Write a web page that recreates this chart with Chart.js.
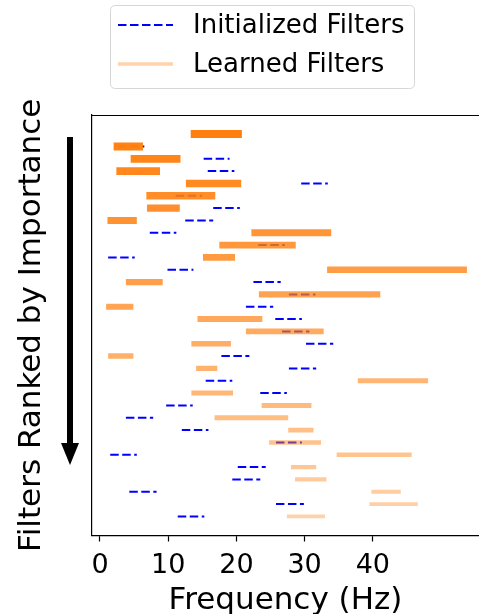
<!DOCTYPE html>
<html>
<head>
<meta charset="utf-8">
<script src="https://cdn.jsdelivr.net/npm/chart.js@4.4.1/dist/chart.umd.min.js"></script>
<style>
  html, body { margin: 0; padding: 0; background: #ffffff; }
  #wrap { width: 479px; height: 614px; position: relative; }
</style>
</head>
<body>
<div id="wrap"><canvas id="chart" width="479" height="614"></canvas></div>
<script>
// Filters in order of importance (rank 0 = most important)
const filterRanks = [0,1,2,3,4,5,6,7,8,9,10,11,12,13,14,15,16,17,18,19,20,21,22,23,24,25,26,27,28,29,30,31];

// Initialized pass-band of each filter (Hz)
const initLow  = [15.2, 2.6, 15.2, 15.8, 29.5, 11.1, 16.6, 12.5, 7.3, 23.2, 1.2, 9.9, 22.5, 27.7, 21.4, 25.7,
                  26.7, 30.2, 17.8, 27.7, 15.5, 23.5, 9.7, 3.8, 12.0, 25.8, 1.5, 20.2, 19.4, 4.3, 25.8, 11.4];
const initHigh = [19.1, 6.5, 19.0, 19.7, 33.4, 15.0, 20.5, 16.6, 11.2, 27.1, 5.1, 13.7, 26.5, 31.6, 25.4, 29.6,
                  30.7, 34.2, 21.9, 31.7, 19.4, 27.4, 13.6, 7.8, 15.9, 29.6, 5.4, 24.3, 23.5, 8.3, 29.9, 15.3];

// Learned pass-band of each filter (Hz)
const learnedLow  = [13.3, 2.0, 4.5, 2.4, 12.6, 6.8, 6.9, 1.1, 22.2, 17.5, 15.1, 33.3, 3.8, 23.3, 0.9, 14.3,
                     21.4, 13.4, 1.2, 14.1, 37.8, 13.4, 23.7, 16.8, 27.6, 24.8, 34.7, 28.0, 28.6, 39.8, 39.5, 27.4];
const learnedHigh = [20.8, 6.3, 11.8, 8.8, 20.7, 16.9, 11.7, 5.4, 33.9, 28.7, 19.8, 53.8, 9.2, 41.1, 4.9, 23.8,
                     32.8, 19.2, 4.9, 17.2, 48.1, 19.5, 31.0, 27.6, 31.3, 32.4, 45.7, 31.7, 33.2, 44.1, 46.6, 33.0];

const xTickValues = [0, 10, 20, 30, 40];

const seriesNames = ['Initialized Filters', 'Learned Filters'];
const axisTitles = { x: 'Frequency (Hz)', y: 'Filters Ranked by Importance' };

const FONT = "'DejaVu Sans', sans-serif";
const nFilters = filterRanks.length;

// learned bands fade and thin out as importance drops
function learnedAlpha(rank) { return 1.0 - 0.65 * rank / (nFilters - 1); }
function learnedWidth(rank) { return 8 - 4.3 * rank / (nFilters - 1); }

const datasets = [];
filterRanks.forEach((r, i) => {
  datasets.push({
    label: seriesNames[1],
    data: [{ x: learnedLow[i], y: r }, { x: learnedHigh[i], y: r }],
    borderColor: `rgba(255,127,14,${learnedAlpha(r).toFixed(3)})`,
    borderWidth: learnedWidth(r),
    borderCapStyle: 'butt',
    order: 0
  });
});
filterRanks.forEach((r, i) => {
  datasets.push({
    label: seriesNames[0],
    data: [{ x: initLow[i], y: r }, { x: initHigh[i], y: r }],
    borderColor: '#0000ff',
    borderWidth: 2,
    borderDash: [8.5, 3.5],
    borderCapStyle: 'butt',
    order: 1
  });
});

// frame top edge, importance arrow and the boxed legend
const decorations = {
  id: 'decorations',
  afterDraw(chart) {
    const ctx = chart.ctx;
    const a = chart.chartArea;
    ctx.save();
    // top spine
    ctx.strokeStyle = '#000';
    ctx.lineWidth = 1.2;
    ctx.beginPath();
    ctx.moveTo(a.left, a.top + 0.5);
    ctx.lineTo(a.right + 2, a.top + 0.5);
    ctx.stroke();

    // importance arrow
    const ax = 70, y0 = 137, yTip = 465, headLen = 22, headHalf = 9;
    ctx.fillStyle = '#000';
    ctx.fillRect(ax - 3, y0, 6, yTip - headLen - y0 + 1);
    ctx.beginPath();
    ctx.moveTo(ax - headHalf, yTip - headLen);
    ctx.lineTo(ax + headHalf, yTip - headLen);
    ctx.lineTo(ax, yTip);
    ctx.closePath();
    ctx.fill();

    // legend box
    const bx = 110.5, by = 5.5, bw = 304, bh = 83, rad = 5;
    ctx.beginPath();
    ctx.moveTo(bx + rad, by);
    ctx.lineTo(bx + bw - rad, by);
    ctx.quadraticCurveTo(bx + bw, by, bx + bw, by + rad);
    ctx.lineTo(bx + bw, by + bh - rad);
    ctx.quadraticCurveTo(bx + bw, by + bh, bx + bw - rad, by + bh);
    ctx.lineTo(bx + rad, by + bh);
    ctx.quadraticCurveTo(bx, by + bh, bx, by + bh - rad);
    ctx.lineTo(bx, by + rad);
    ctx.quadraticCurveTo(bx, by, bx + rad, by);
    ctx.closePath();
    ctx.fillStyle = 'rgba(255,255,255,0.8)';
    ctx.fill();
    ctx.strokeStyle = '#d6d6d6';
    ctx.lineWidth = 1;
    ctx.stroke();

    // legend handles
    ctx.strokeStyle = '#0000ff';
    ctx.lineWidth = 2;
    ctx.lineCap = 'butt';
    ctx.setLineDash([8.5, 3.5]);
    ctx.beginPath();
    ctx.moveTo(118, 25);
    ctx.lineTo(173, 25);
    ctx.stroke();
    ctx.setLineDash([]);
    ctx.strokeStyle = `rgba(255,127,14,${learnedAlpha(nFilters - 1).toFixed(3)})`;
    ctx.lineWidth = learnedWidth(nFilters - 1);
    ctx.beginPath();
    ctx.moveTo(118, 64);
    ctx.lineTo(173, 64);
    ctx.stroke();

    ctx.fillStyle = '#000';
    ctx.font = `26px ${FONT}`;
    ctx.textBaseline = 'middle';
    ctx.textAlign = 'left';
    ctx.fillText(seriesNames[0], 193, 26);
    ctx.fillText(seriesNames[1], 193, 65);
    ctx.restore();
  }
};

new Chart(document.getElementById('chart'), {
  type: 'line',
  data: { datasets },
  options: {
    responsive: false,
    animation: false,
    events: [],
    layout: { padding: { top: 115, left: 0, right: 0, bottom: 0 } },
    plugins: { legend: { display: false }, tooltip: { enabled: false } },
    elements: { point: { radius: 0 }, line: { tension: 0 } },
    scales: {
      x: {
        type: 'linear',
        min: -1.17,
        max: 55.57,
        afterBuildTicks: (scale) => { scale.ticks = xTickValues.map(v => ({ value: v })); },
        afterFit: (scale) => { scale.height = 78.5; },
        grid: { drawOnChartArea: false, drawTicks: true, tickLength: 6, color: '#000', tickWidth: 1.2 },
        border: { display: true, color: '#000', width: 1.2 },
        ticks: { font: { family: FONT, size: 27 }, color: '#000', padding: 8, maxRotation: 0 },
        title: { display: true, text: axisTitles.x, color: '#000', font: { family: FONT, size: 31 }, padding: { top: 0, bottom: -6 } }
      },
      y: {
        type: 'linear',
        reverse: true,
        min: -1.55,
        max: 32.55,
        afterFit: (scale) => { scale.width = 92; },
        grid: { display: false },
        border: { display: true, color: '#000', width: 1.2 },
        ticks: { display: false },
        title: { display: true, text: axisTitles.y, color: '#000', font: { family: FONT, size: 31 }, padding: { top: 13, bottom: 0 } }
      }
    }
  },
  plugins: [decorations]
});
</script>
</body>
</html>
